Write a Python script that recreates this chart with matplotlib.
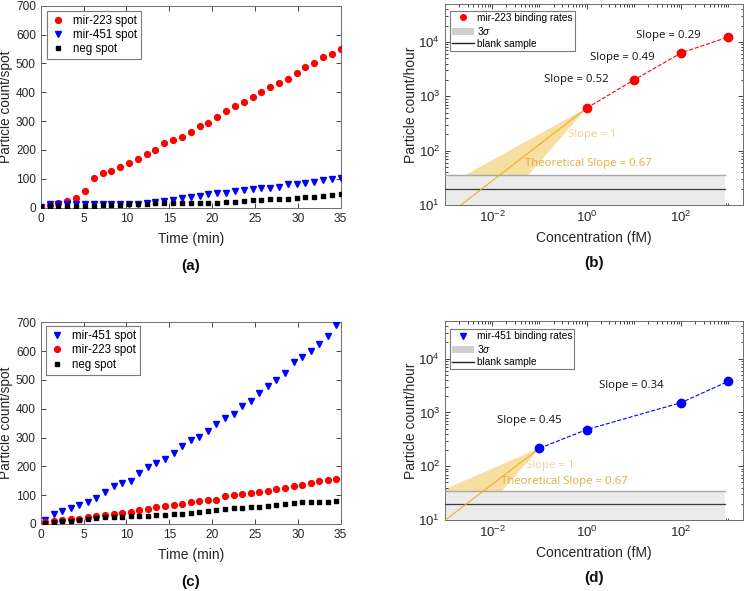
import numpy as np
import matplotlib
matplotlib.use('Agg')
import matplotlib.pyplot as plt
from matplotlib.lines import Line2D
from matplotlib.patches import Patch
from matplotlib.ticker import LogLocator, NullFormatter, FixedLocator, MultipleLocator

plt.rcParams['font.family'] = ['Liberation Sans', 'DejaVu Sans']
plt.rcParams['mathtext.fontset'] = 'custom'
plt.rcParams['mathtext.rm'] = 'Liberation Sans'
plt.rcParams['mathtext.it'] = 'Liberation Sans:italic'

# ---------------- data ----------------
time_a = [0, 1.03, 2.06, 3.09, 4.12, 5.15, 6.18, 7.21, 8.24, 9.26, 10.29, 11.32,
          12.35, 13.38, 14.41, 15.44, 16.47, 17.5, 18.53, 19.56, 20.59, 21.62,
          22.65, 23.68, 24.71, 25.74, 26.76, 27.79, 28.82, 29.85, 30.88, 31.91,
          32.94, 33.97, 35.0]
a_mir223 = [1, 11, 18, 24, 32, 57, 104, 119, 128, 141, 156, 168, 185, 200, 225, 233,
            246, 264, 282, 293, 314, 335, 354, 365, 383, 402, 419, 432, 447, 468,
            488, 502, 521, 532, 551]
a_mir451 = [1, 12, 12, 13, 13, 13, 13, 13, 13, 13, 13, 13, 16, 20, 24, 28, 32, 38,
            42, 46, 50, 52, 58, 60, 65, 67, 69, 73, 83, 83, 84, 88, 95, 98, 104]
a_neg = [1, 6, 6, 6, 6, 7, 7, 8, 9, 10, 12, 13, 14, 15, 16, 16, 16, 16,
         16, 18, 18, 20, 21, 24, 25, 28, 29, 31, 31, 32, 37, 38, 40, 45, 46]

time_c = [0.5, 1.5, 2.5, 3.5, 4.5, 5.5, 6.5, 7.5, 8.5, 9.5, 10.5, 11.5, 12.5, 13.5,
          14.5, 15.5, 16.5, 17.5, 18.5, 19.5, 20.5, 21.5, 22.5, 23.5, 24.5, 25.5,
          26.5, 27.5, 28.5, 29.5, 30.5, 31.5, 32.5, 33.5, 34.5]
c_mir451 = [14, 35, 46, 57, 66, 76, 91, 111, 132, 141, 150, 178, 197, 212, 226, 247,
            269, 290, 302, 324, 348, 369, 383, 409, 426, 453, 479, 500, 524, 561,
            579, 600, 625, 654, 690]
c_mir223 = [7, 10, 14, 17, 17, 24, 29, 31, 34, 39, 43, 47, 52, 58, 61, 66, 71, 76,
            79, 83, 84, 97, 102, 105, 109, 112, 115, 122, 125, 131, 137, 141, 148,
            154, 157]
c_neg = [3, 7, 9, 12, 14, 17, 21, 23, 24, 25, 28, 29, 29, 30, 32, 34, 35, 38,
         43, 44, 47, 52, 54, 57, 58, 60, 62, 65, 71, 74, 75, 76, 76, 76, 79]

conc_b = [1, 10, 100, 1000]
rate_b = [610, 2000, 6300, 12400]
conc_d = [0.1, 1, 100, 1000]
rate_d = [216, 480, 1520, 3800]

blank_level = 20
sigma3_level = 35
theory_slope = 0.67
wedge_slopes_b = [0.48, 1.0]
wedge_slopes_d = [0.38, 1.0]
slope_labels_b = ['Slope = 0.52', 'Slope = 0.49', 'Slope = 0.29']
slope_labels_d = ['Slope = 0.45', 'Slope = 0.34']

# ---------------- layout ----------------
W, H = 745, 591
fig = plt.figure(figsize=(W / 100, H / 100), dpi=100)


def add_ax(l, t, r, b):
    return fig.add_axes([l / W, 1 - b / H, (r - l) / W, (b - t) / H])


AXC = '#262626'


def style(ax):
    for s in ax.spines.values():
        s.set_color('#6e6e6e')
        s.set_linewidth(0.7)
    ax.tick_params(which='both', direction='in', top=True, right=True,
                   color=AXC, labelcolor=AXC, labelsize=8.6, width=0.6)
    ax.tick_params(which='major', length=3.5)
    ax.tick_params(which='minor', length=1.8)


def leg_style(leg):
    fr = leg.get_frame()
    fr.set_edgecolor('#7a7a7a')
    fr.set_linewidth(0.8)
    fr.set_boxstyle('square', pad=0)


ax_a = add_ax(40.7, 5.7, 340.7, 207.7)
ax_c = add_ax(40.7, 322.3, 340.7, 524.0)
ax_b = add_ax(445, 4, 742.7, 205)
ax_d = add_ax(445, 321, 742.7, 520)

# ---- time series panels ----
def ts_panel(ax, t, series, bbox):
    handles = []
    for vals, mk, col, ms, lab in series:
        h, = ax.plot(t, vals, mk, color=col, ms=ms, ls='none', label=lab, zorder=3)
        handles.append(h)
    ax.set_xlim(0, 35)
    ax.set_ylim(0, 700)
    ax.xaxis.set_major_locator(MultipleLocator(5))
    ax.yaxis.set_major_locator(MultipleLocator(100))
    style(ax)
    ax.set_xlabel('Time (min)', fontsize=10, color=AXC, labelpad=5)
    ax.set_ylabel('Particle count/spot', fontsize=9.8, color=AXC)
    ax.yaxis.set_label_coords(-0.093, 0.5)
    leg = ax.legend(handles=handles, loc='upper left', bbox_to_anchor=bbox,
                    borderaxespad=0, fontsize=8.3, handlelength=1.2,
                    handletextpad=0.7, borderpad=0.35, labelspacing=0.2,
                    fancybox=False, framealpha=1)
    leg_style(leg)


ts_panel(ax_a, time_a,
         [(a_mir223, 'o', 'red', 4.2, 'mir-223 spot'),
          (a_mir451, 'v', 'blue', 4.6, 'mir-451 spot'),
          (a_neg, 's', 'black', 3.3, 'neg spot')],
         (0.02, 0.975))
ts_panel(ax_c, time_c,
         [(c_mir451, 'v', 'blue', 4.6, 'mir-451 spot'),
          (c_mir223, 'o', 'red', 4.2, 'mir-223 spot'),
          (c_neg, 's', 'black', 3.3, 'neg spot')],
         (0.017, 0.982))

# ---- log panels ----
ORANGE = '#EDB120'


def log_panel(ax, conc, rate, col, mk_leg, leg_label, wedge, labels, label_pos,
              pos1, posT, bbox):
    ax.set_xscale('log')
    ax.set_yscale('log')
    ax.set_xlim(1e-3, 2e3)
    ax.set_ylim(10, 5e4)
    x0, y0 = conc[0], rate[0]
    xf = 1e-4
    # wedge between two slopes
    ax.fill([x0, xf, xf], [y0, y0 * (xf / x0) ** wedge[0], y0 * (xf / x0) ** wedge[1]],
            color=ORANGE, alpha=0.42, lw=0, zorder=1)
    # 3 sigma band + blank sample line
    ax.fill_between([1e-3, 830], 1, sigma3_level, color='#EBEBEB', lw=0, zorder=2)
    ax.plot([1e-3, 830], [sigma3_level, sigma3_level], color='#A8A8A8', lw=1.0, zorder=3)
    ax.plot([1e-3, 830], [blank_level, blank_level], color='#3a3a3a', lw=0.9, zorder=3)
    # theoretical slope line
    ax.plot([x0, xf], [y0, y0 * (xf / x0) ** theory_slope], color=ORANGE, lw=0.8, zorder=4)
    # data
    ax.plot(conc, rate, '--', color=col, lw=0.8, zorder=5)
    ax.plot(conc, rate, 'o', color=col, ms=6, zorder=6)
    for txt, (px, py) in zip(labels, label_pos):
        ax.text(px, py, txt, transform=ax.transAxes, ha='center', va='center',
                fontsize=8.2, family='Open Sans', color='#111111', zorder=7)
    ax.text(pos1[0], pos1[1], 'Slope = 1', transform=ax.transAxes, ha='center',
            va='center', fontsize=8.2, family='Open Sans', color='#F0D29A', zorder=7)
    ax.text(posT[0], posT[1], 'Theoretical Slope = 0.67', transform=ax.transAxes,
            ha='center', va='center', fontsize=8.2, family='Open Sans',
            color='#E2AC3C', zorder=7)
    ax.xaxis.set_major_locator(FixedLocator([1e-2, 1, 1e2]))
    ax.xaxis.set_minor_locator(LogLocator(base=10, subs=np.arange(1, 10), numticks=30))
    ax.xaxis.set_minor_formatter(NullFormatter())
    ax.yaxis.set_major_locator(FixedLocator([1e1, 1e2, 1e3, 1e4]))
    ax.yaxis.set_minor_locator(LogLocator(base=10, subs=np.arange(1, 10), numticks=30))
    ax.yaxis.set_minor_formatter(NullFormatter())
    style(ax)
    ax.tick_params(labelsize=9.5)
    ax.set_xlabel('Concentration (fM)', fontsize=10, color=AXC, labelpad=4)
    ax.set_ylabel('Particle count/hour', fontsize=10, color=AXC)
    ax.yaxis.set_label_coords(-0.092, 0.5)
    handles = [Line2D([], [], marker=mk_leg, color=col, ls='none', ms=4),
               Patch(facecolor='#CFCFCF', edgecolor='none'),
               Line2D([], [], color='#222222', lw=1)]
    leg = ax.legend(handles=handles, labels=[leg_label, '3$\\sigma$', 'blank sample'],
                    loc='upper left', bbox_to_anchor=bbox, borderaxespad=0,
                    fontsize=7.3, handlelength=2.2, handletextpad=0.25,
                    borderpad=0.2, labelspacing=0.2, fancybox=False, framealpha=1)
    leg_style(leg)
    leg.set_zorder(10)


log_panel(ax_b, conc_b, rate_b, 'red', 'o', 'mir-223 binding rates', wedge_slopes_b,
          slope_labels_b, [(0.442, 0.625), (0.597, 0.735), (0.750, 0.841)],
          (0.493, 0.353), (0.480, 0.204), (0.017, 0.967))
log_panel(ax_d, conc_d, rate_d, 'blue', 'v', 'mir-451 binding rates', wedge_slopes_d,
          slope_labels_d, [(0.282, 0.499), (0.627, 0.675)],
          (0.355, 0.276), (0.400, 0.192), (0.017, 0.958))

# ---- panel labels ----
for lab, cx, by in [('(a)', 190.7, 207.7), ('(b)', 594, 205),
                    ('(c)', 190.7, 524.0), ('(d)', 594, 520)]:
    fig.text(cx / W, 1 - (by + 58) / H, lab, ha='center', va='center',
             fontsize=11, fontweight='bold', color='#111111')

fig.savefig('out.png', dpi=100)
